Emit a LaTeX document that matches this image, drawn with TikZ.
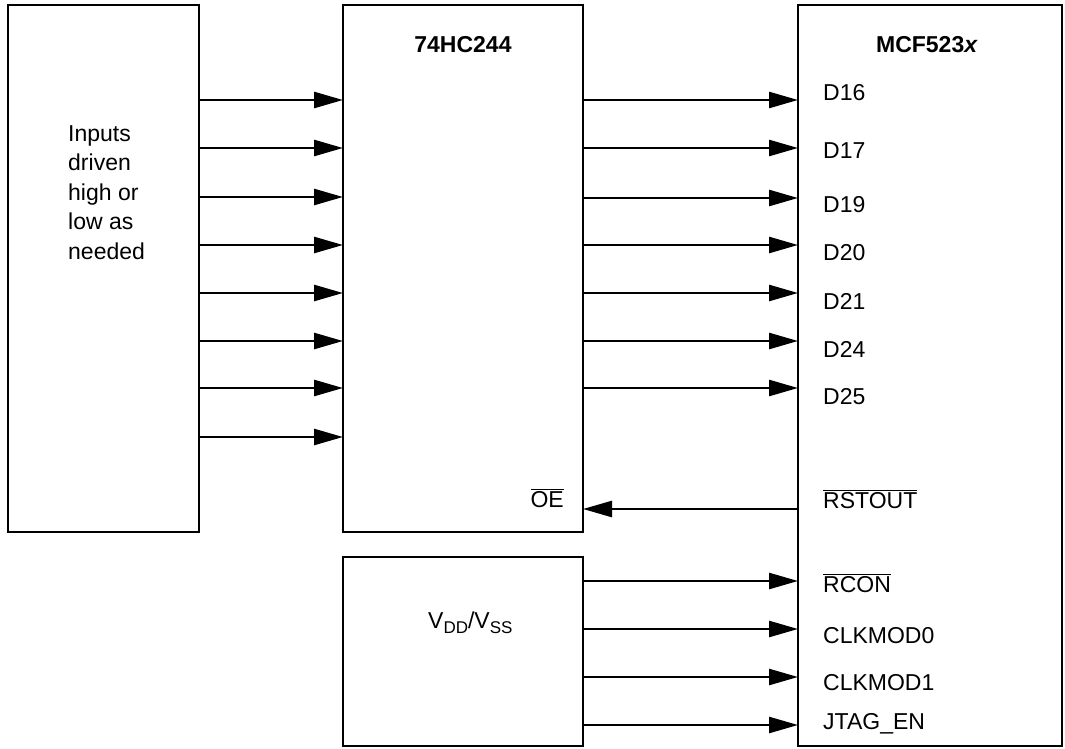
\documentclass[tikz,border=0pt]{standalone}
\usepackage{fontspec}
\setmainfont{Liberation Sans}
\usetikzlibrary{arrows.meta, positioning}

\newcommand{\ovl}[1]{$\overline{\mbox{#1}}$}
\newcommand{\subtxt}[1]{\raisebox{-5pt}{\fontsize{17}{17}\selectfont #1}}

\begin{document}
\begin{tikzpicture}[x=1pt, y=-1pt,
        blk/.style={rectangle, draw, line width=2.6pt, inner sep=0pt, outer sep=0pt},
        arr/.style={-{Triangle[length=29pt,width=16pt]}, line width=2.6pt},
        pin/.style={anchor=base west, inner sep=0pt, font=\fontsize{23}{28}\selectfont},
        ttl/.style={anchor=base, inner sep=0pt, font=\fontsize{23}{28}\selectfont\bfseries}]
      \useasboundingbox (0,0) rectangle (1065,749);
      % blocks
      \node[blk, anchor=north west, minimum width=191pt, minimum height=527pt] (inputs) at (8,5) {};
      \node[blk, below right=0pt and 144pt of inputs.north east,
            minimum width=240pt, minimum height=527pt] (buf) {};
      \node[blk, below=25pt of buf, minimum width=240pt, minimum height=189pt] (vdd) {};
      \node[blk, below right=0pt and 215pt of buf.north east,
            minimum width=264pt, minimum height=741pt] (mcf) {};
      % texts
      \node[anchor=north west, inner sep=0pt, align=left,
            font=\fontsize{23}{29.5}\selectfont] (intxt) at (68,125)
            {Inputs\\driven\\high or\\low as\\needed};
      \node[ttl] (buftitle) at (463,53) {74HC244};
      \node[ttl] (mcftitle) at (927,53) {MCF523\textit{x}};
      \node[pin] (vddtxt) at (428,628) {V\subtxt{DD}/V\subtxt{SS}};
      \node[pin, anchor=base east] (oe) at (564,507) {\ovl{OE}};
      \node[pin] (rstout) at (823,508) {\ovl{RSTOUT}};
      % inputs to 74HC244
      \foreach \ay in {100,148,197,245,293,341,388,437}
        \draw[arr] (inputs.east |- 0,\ay) -- (buf.west |- 0,\ay);
      % 74HC244 to MCF523x
      \foreach \ay/\ly/\txt [count=\i] in {100/101/D16, 148/158/D17, 198/212/D19,
          245/260/D20, 293/309/D21, 341/357/D24, 388/404/D25} {
        \node[pin] (d\i) at (823,\ly) {\txt};
        \draw[arr] (buf.east |- 0,\ay) -- (mcf.west |- 0,\ay);
      }
      \draw[arr] (mcf.west |- 0,509) -- (buf.east |- 0,509);
      % VDD/VSS to MCF523x
      \foreach \ay/\ly/\txt [count=\i] in {581/592/\ovl{RCON}, 629/643/CLKMOD0,
          677/690/CLKMOD1, 725/729/JTAG\_EN} {
        \node[pin] (cfg\i) at (823,\ly) {\txt};
        \draw[arr] (vdd.east |- 0,\ay) -- (mcf.west |- 0,\ay);
      }
    \end{tikzpicture}
\end{document}
